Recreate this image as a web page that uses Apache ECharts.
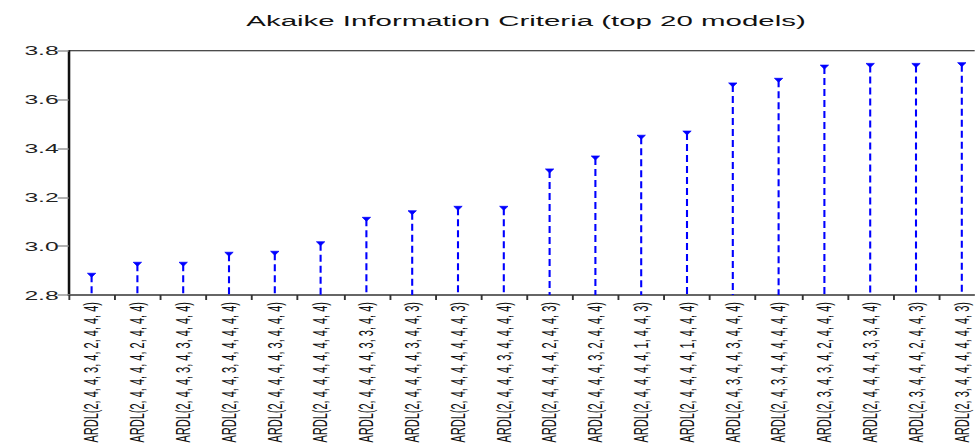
<!DOCTYPE html>
<html>
<head>
<meta charset="utf-8">
<script src="https://cdn.jsdelivr.net/npm/echarts@6/dist/echarts.min.js"></script>
<style>
  html, body { margin: 0; padding: 0; background: #ffffff; overflow: hidden; }
  #wrap { width: 975px; height: 445px; overflow: hidden; position: relative; }
  #chart { position: absolute; left: 0; top: 0; height: 445px; transform-origin: 0 0; }
</style>
</head>
<body>
<div id="wrap"><div id="chart"></div></div>
<script>
// ---- data ----
const chartTitle = 'Akaike Information Criteria (top 20 models)';
const categories = [
  'ARDL(2, 4, 4, 3, 4, 2, 4, 4, 4)',
  'ARDL(2, 4, 4, 4, 4, 2, 4, 4, 4)',
  'ARDL(2, 4, 4, 3, 4, 3, 4, 4, 4)',
  'ARDL(2, 4, 4, 3, 4, 4, 4, 4, 4)',
  'ARDL(2, 4, 4, 4, 4, 3, 4, 4, 4)',
  'ARDL(2, 4, 4, 4, 4, 4, 4, 4, 4)',
  'ARDL(2, 4, 4, 4, 4, 3, 3, 4, 4)',
  'ARDL(2, 4, 4, 4, 4, 3, 4, 4, 3)',
  'ARDL(2, 4, 4, 4, 4, 4, 4, 4, 3)',
  'ARDL(2, 4, 4, 4, 3, 4, 4, 4, 4)',
  'ARDL(2, 4, 4, 4, 4, 2, 4, 4, 3)',
  'ARDL(2, 4, 4, 4, 3, 2, 4, 4, 4)',
  'ARDL(2, 4, 4, 4, 4, 1, 4, 4, 3)',
  'ARDL(2, 4, 4, 4, 4, 1, 4, 4, 4)',
  'ARDL(2, 4, 3, 4, 4, 3, 4, 4, 4)',
  'ARDL(2, 4, 3, 4, 4, 4, 4, 4, 4)',
  'ARDL(2, 3, 4, 3, 4, 2, 4, 4, 4)',
  'ARDL(2, 4, 4, 4, 4, 3, 3, 4, 4)',
  'ARDL(2, 3, 4, 4, 4, 2, 4, 4, 3)',
  'ARDL(2, 3, 4, 4, 4, 4, 4, 4, 3)'
];
const aicValues = [
  2.889, 2.934, 2.934, 2.975, 2.979, 3.018, 3.118, 3.145, 3.163, 3.163,
  3.316, 3.369, 3.454, 3.471, 3.668, 3.687, 3.741, 3.748, 3.748, 3.751
];
const yTickValues = [2.8, 3.0, 3.2, 3.4, 3.6, 3.8];

// ---- layout (reference graph is stretched horizontally) ----
const SX = 1.9;
const W = 975 / SX;
const chartEl = document.getElementById('chart');
chartEl.style.width = W + 'px';
chartEl.style.transform = 'scaleX(' + SX + ')';

const yMin = yTickValues[0];
const yMax = yTickValues[yTickValues.length - 1];
const yStep = +(yTickValues[1] - yTickValues[0]).toFixed(6);

const chart = echarts.init(chartEl, null, { renderer: 'svg', width: W, height: 445 });

const option = {
  backgroundColor: '#ffffff',
  animation: false,
  title: {
    text: chartTitle,
    left: 526 / SX,
    textAlign: 'center',
    top: 13,
    padding: 0,
    textStyle: { fontFamily: 'Liberation Sans, Arial, sans-serif', fontSize: 15.5, fontWeight: 'normal', color: '#111' }
  },
  grid: {
    left: 68.7 / SX,
    top: 50.7,
    width: 916 / SX,
    height: 244.3,
    containLabel: false,
    outerBoundsMode: 'none',
    show: true,
    borderColor: '#111',
    borderWidth: 1,
    backgroundColor: 'transparent'
  },
  xAxis: {
    type: 'category',
    data: categories,
    boundaryGap: true,
    axisLine: { lineStyle: { color: '#666', width: 2 } },
    axisTick: { show: true, inside: false, length: 5, alignWithLabel: false, lineStyle: { color: '#333', width: 1 } },
    axisLabel: {
      interval: 0,
      rotate: 90,
      margin: 7,
      hideOverlap: false,
      fontFamily: 'Liberation Sans, Arial, sans-serif',
      fontSize: 11,
      color: '#111'
    },
    splitLine: { show: false }
  },
  yAxis: {
    type: 'value',
    min: yMin,
    max: yMax,
    interval: yStep,
    axisLine: { show: true, lineStyle: { color: '#111', width: 1 } },
    axisTick: { show: true, length: 11 / SX, lineStyle: { color: '#999', width: 1.5 } },
    axisLabel: {
      margin: 10 / SX,
      fontFamily: 'Liberation Sans, Arial, sans-serif',
      fontSize: 13,
      color: '#222',
      formatter: v => v.toFixed(1)
    },
    splitLine: { show: false }
  },
  series: [{
    type: 'custom',
    data: aicValues.map((v, i) => [i, v]),
    encode: { x: 0, y: 1 },
    renderItem: function (params, api) {
      const top = api.coord([api.value(0), api.value(1)]);
      const base = api.coord([api.value(0), yMin]);
      const hw = 2.2, th = 4;
      return {
        type: 'group',
        children: [
          {
            type: 'line',
            shape: { x1: top[0], y1: top[1] + 2, x2: base[0], y2: base[1] },
            style: { stroke: '#0000ff', lineWidth: 1.1, lineDash: [7, 4], fill: null }
          },
          {
            type: 'polygon',
            shape: { points: [[top[0] - hw, top[1]], [top[0] + hw, top[1]], [top[0], top[1] + th]] },
            style: { fill: '#0000ff', stroke: '#0000ff', lineWidth: 0.5 }
          }
        ]
      };
    }
  }]
};
chart.setOption(option);
</script>
</body>
</html>
